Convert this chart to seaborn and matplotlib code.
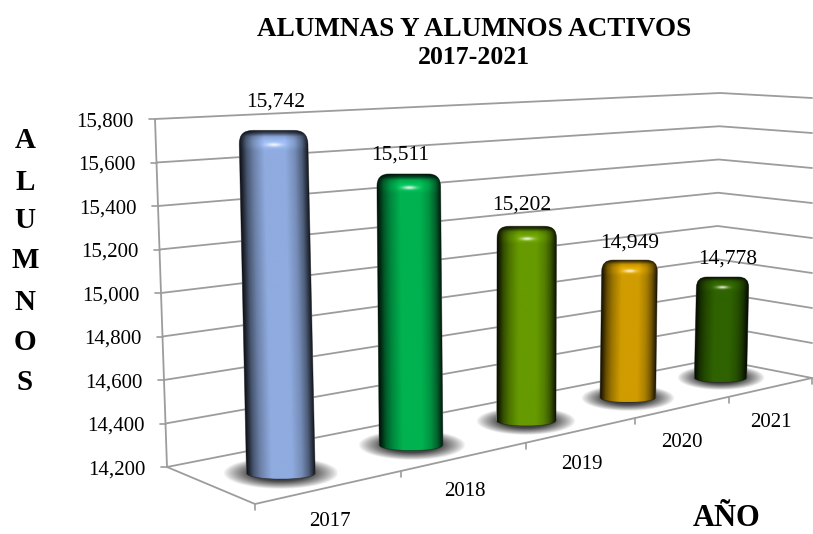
import numpy as np
import matplotlib
matplotlib.use('Agg')
import matplotlib.pyplot as plt
import seaborn as sns
from matplotlib.path import Path
from matplotlib.patches import PathPatch
from matplotlib.transforms import Affine2D

# datos
anios = ['2017', '2018', '2019', '2020', '2021']
alumnos = [15742, 15511, 15202, 14949, 14778]
colores = ['#8fabdf', '#00b250', '#669a00', '#d09c00', '#2f6200']
ticks_y = [14200, 14400, 14600, 14800, 15000, 15200, 15400, 15600, 15800]
letras_y = ['A', 'L', 'U', 'M', 'N', 'O', 'S']

# ajustes de las etiquetas, se movieron a mano en el original
label_dx = [2, -8, -5, 0, 5]
label_gap = [28, 19, 21, 17, 18]

# correccion de la base de cada barra sobre el piso
base_dx = [-3, -6, -6, -5, -1]
base_dy = [4, 4, 4, 2, 1]

# esquinas de la caja 3D, en pixeles de la imagen
PISO_FI = (255, 504)
PISO_FD = (812, 378)
PISO_AI = (167, 467)
PISO_AD = (715, 359)
TECHO_AI = (155, 119)
TECHO_AD = (720, 93)
TECHO_D = (812, 98)
GRIS = '#9c9c9c'
SERIF = 'Liberation Serif'


def homografia(pts_src, pts_dst):
    A, b = [], []
    for (u, v), (x, y) in zip(pts_src, pts_dst):
        A.append([u, v, 1, 0, 0, 0, -u * x, -v * x])
        A.append([0, 0, 0, u, v, 1, -u * y, -v * y])
        b += [x, y]
    h = np.linalg.solve(np.array(A, float), np.array(b, float))
    return np.append(h, 1).reshape(3, 3)


H = homografia([(0, 0), (1, 0), (0, 1), (1, 1)], [PISO_FI, PISO_FD, PISO_AI, PISO_AD])


def piso(u, d):
    x, y, w = H @ np.array([u, d, 1.0])
    return x / w, y / w, w


W_REF = piso(0, 1)[2]
ESCALA = (467 - 119) / (ticks_y[-1] - ticks_y[0])


def en_pared(valor, abajo, arriba):
    f = (valor - ticks_y[0]) / (ticks_y[-1] - ticks_y[0])
    return abajo[0] + f * (arriba[0] - abajo[0]), abajo[1] + f * (arriba[1] - abajo[1])


def sombra(ax, xc, yc, ancho):
    n = 120
    xx, yy = np.meshgrid(np.linspace(-1, 1, n), np.linspace(-1, 1, n))
    r = np.hypot(xx, yy)
    img = np.zeros((n, n, 4))
    img[..., :3] = 0.22
    img[..., 3] = np.clip((1 - r) / 0.5, 0, 1) ** 0.85 * 0.95
    ax.imshow(img, extent=[xc - 0.84 * ancho, xc + 0.84 * ancho, yc + 0.24 * ancho, yc - 0.22 * ancho],
              aspect='auto', interpolation='bilinear', zorder=2)


def textura(color, alto, ancho):
    ny, nx = int(alto * 2), int(ancho * 3)
    u = np.linspace(0, 1, nx)
    lado = np.interp(u, [0, .04, .1, .2, .36, .66, .8, .9, .96, 1],
                     [.1, .25, .5, .75, 1, 1, .82, .55, .28, .1])
    d = np.linspace(0, alto, ny) / ancho
    tapa = np.interp(d, [0, .04, .09, .15, .22, .3], [.15, .4, .95, 1.1, 1.1, 1])
    base = np.array(matplotlib.colors.to_rgb(color))
    img = base[None, None, :] * (lado[None, :] * tapa[:, None])[..., None]
    # brillo de la tapa
    uu, dd = np.meshgrid(u, d)
    brillo = np.exp(-((uu - .5) / .11) ** 2 - ((dd - .21) / .028) ** 2)
    img = img + (1 - img) * (brillo * .85)[..., None]
    return np.clip(img, 0, 1)


sns.set_theme(style='white')
plt.rcParams['font.family'] = [SERIF, 'DejaVu Serif']

fig = plt.figure(figsize=(8.13, 5.34), dpi=100)
ax = fig.add_axes([0, 0, 1, 1])

# rejilla de las paredes
for valor in ticks_y:
    p1 = en_pared(valor, PISO_AI, TECHO_AI)
    p2 = en_pared(valor, PISO_AD, TECHO_AD)
    p3 = en_pared(valor, PISO_FD, TECHO_D)
    sns.lineplot(x=[p1[0], p2[0], p3[0]], y=[p1[1], p2[1], p3[1]], sort=False, estimator=None,
                 color=GRIS, linewidth=1.3, ax=ax, zorder=1)
    ax.plot([p1[0] - 6, p1[0]], [p1[1], p1[1]], color=GRIS, lw=1.2, zorder=1)
    ax.text(p1[0] - 21, p1[1] + 3, f'{valor:,}', ha='right', va='center', fontsize=15, color='black')

# bordes de la caja
ax.plot([PISO_AI[0], TECHO_AI[0]], [PISO_AI[1], TECHO_AI[1]], color=GRIS, lw=1.3, zorder=1)
ax.plot([PISO_AI[0], PISO_FI[0], PISO_FD[0]], [PISO_AI[1], PISO_FI[1], PISO_FD[1]], color=GRIS, lw=1.3, zorder=1)
for i in range(len(anios) + 1):
    xt, yt, _ = piso(i / len(anios), 0)
    ax.plot([xt, xt], [yt, yt + 6], color=GRIS, lw=1.2, zorder=1)

# barras
for i, (anio, valor, color) in enumerate(zip(anios, alumnos, colores)):
    u = (i + 0.5) / len(anios)
    xc, yb, w = piso(u, 0.5)
    xc += base_dx[i]
    yb += base_dy[i]
    esc = ESCALA * W_REF / w
    ancho = 315 * esc
    ry = 0.09 * ancho
    alto = esc * (valor - ticks_y[0]) + ry
    ytop = yb - alto

    sombra(ax, xc, yb, ancho)

    n_prev = len(ax.patches)
    sns.barplot(x=[xc], y=[-alto], bottom=yb, width=ancho, native_scale=True, orient='x',
                color=color, saturation=1, errorbar=None, zorder=3, ax=ax)
    barra = ax.patches[n_prev]

    # las barras se abren hacia arriba por la perspectiva
    L = 0.0001 * (500 - xc)
    sesgo = Affine2D.from_values(1, 0, L, 1, -L * yb, 0) + ax.transData

    x0 = barra.get_x()
    x1 = x0 + barra.get_width()
    r = 0.2 * ancho
    verts = [(x0, yb), (x0, ytop + r), (x0, ytop), (x0 + r, ytop), (x1 - r, ytop), (x1, ytop), (x1, ytop + r),
             (x1, yb), (x1, yb + 1.33 * ry), (x0, yb + 1.33 * ry), (x0, yb), (x0, yb)]
    codes = [Path.MOVETO, Path.LINETO, Path.CURVE3, Path.CURVE3, Path.LINETO, Path.CURVE3, Path.CURVE3,
             Path.LINETO, Path.CURVE4, Path.CURVE4, Path.CURVE4, Path.CLOSEPOLY]
    forma = Path(verts, codes)

    barra.set_transform(sesgo)
    barra.set_clip_path(forma, transform=sesgo)
    im = ax.imshow(textura(color, alto + ry, ancho), extent=[x0, x1, yb + ry, ytop], aspect='auto',
                   interpolation='bilinear', zorder=4)
    im.set_transform(sesgo)
    im.set_clip_path(forma, transform=sesgo)
    ax.add_patch(PathPatch(forma, transform=sesgo, facecolor='none', edgecolor='#101010', lw=0.6,
                           alpha=0.45, zorder=4.5))

    ax.text(xc - L * alto + label_dx[i], ytop - label_gap[i], f'{valor:,}', ha='center', va='center',
            fontsize=15.5, color='black', zorder=6)

    xl, yl, _ = piso(u, 0)
    ax.text(xl - 1, yl + 35, anio, ha='center', va='center', fontsize=15, color='black')

# titulos
ax.text(474, 29, 'ALUMNAS Y ALUMNOS ACTIVOS', ha='center', va='center', fontsize=19.5, fontweight='bold', color='black')
ax.text(474, 58, '2017-2021', ha='center', va='center', fontsize=18.5, fontweight='bold', color='black')
for letra, y in zip(letras_y, [141, 182, 221, 261, 302, 342, 383]):
    ax.text(25, y, letra, ha='center', va='center', fontsize=21, fontweight='bold', color='black')
ax.text(727, 526, 'AÑO', ha='center', va='baseline', fontsize=22, fontweight='bold', color='black')

ax.set_xlim(0, 813)
ax.set_ylim(534, 0)
ax.set_axis_off()

fig.savefig('out.png', dpi=100, facecolor='white')
